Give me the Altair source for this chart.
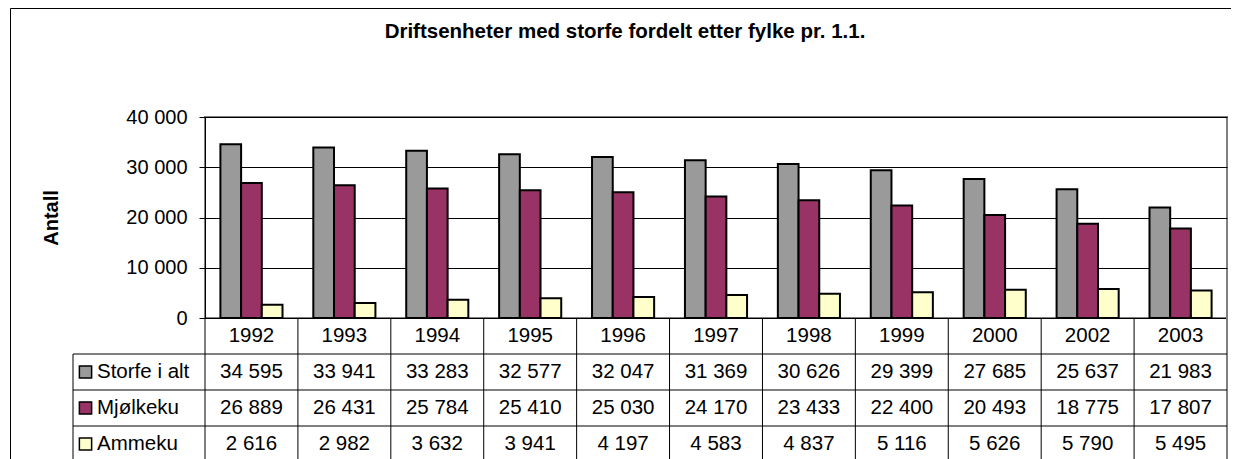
import altair as alt
import pandas as pd

# ---------------- data ----------------
years = ["1992", "1993", "1994", "1995", "1996", "1997", "1998", "1999", "2000", "2002", "2003"]
series = ["Storfe i alt", "Mjølkeku", "Ammeku"]
storfe = [34595, 33941, 33283, 32577, 32047, 31369, 30626, 29399, 27685, 25637, 21983]
mjolkeku = [26889, 26431, 25784, 25410, 25030, 24170, 23433, 22400, 20493, 18775, 17807]
ammeku = [2616, 2982, 3632, 3941, 4197, 4583, 4837, 5116, 5626, 5790, 5495]
colors = ["#9a9a9a", "#993366", "#ffffcc"]
title_text = "Driftsenheter med storfe fordelt etter fylke pr. 1.1."
y_title = "Antall"
y_ticks = [0, 10000, 20000, 30000, 40000]

FONT = "Liberation Sans"
W, H, ROW = 1022, 201, 36

values = [storfe, mjolkeku, ammeku]


def fmt(v):
    return f"{v:,}".replace(",", " ")


bar_rows = []
for s, vals in zip(series, values):
    for yr, v in zip(years, vals):
        bar_rows.append({"year": yr, "series": s, "value": v})
bars_df = pd.DataFrame(bar_rows)

cell_rows = [{"year": yr, "r": 0.5, "text": yr} for yr in years]
for i, (s, vals) in enumerate(zip(series, values)):
    for yr, v in zip(years, vals):
        cell_rows.append({"year": yr, "r": i + 1.5, "text": fmt(v)})
cells_df = pd.DataFrame(cell_rows)

labels_df = pd.DataFrame({"series": series, "r": [1.5, 2.5, 3.5]})
vsep_df = pd.DataFrame({"year": years, "y0": 0, "y1": 4})
redge_df = pd.DataFrame({"year": [years[-1]], "y0": [0], "y1": [4]})
hsep_df = pd.DataFrame({"r": [1, 2, 3]})
ledge_df = pd.DataFrame({"y0": [1], "y1": [4]})
title_df = pd.DataFrame({"t": [title_text]})
one_df = pd.DataFrame({"a": [0]})

# ---------------- scales ----------------
x_scale = alt.Scale(domain=years, paddingInner=0, paddingOuter=0)
x_axis = alt.Axis(labels=False, ticks=False, title=None, grid=False,
                  domainColor="black", domainWidth=1)
table_scale = alt.Scale(domain=[0, 4], range=[H, H + 4 * ROW])
color_scale = alt.Scale(domain=series, range=colors)

y_axis = alt.Axis(
    values=y_ticks, grid=True, gridColor="black", gridWidth=1,
    domainColor="black", domainWidth=1, tickColor="black", tickSize=6,
    labelFont=FONT, labelFontSize=20, labelColor="black", labelPadding=12,
    labelFlush=False, labelOverlap=False,
    labelExpr="replace(format(datum.value, ','), ',', ' ')",
    title=y_title, titleFont=FONT, titleFontSize=20, titleFontWeight="bold",
    titleColor="black", titleAngle=270, titleX=-148, titleY=H / 2,
    titleAlign="center", titleBaseline="alphabetic",
)

bars = alt.Chart(bars_df).mark_bar(stroke="black", strokeWidth=2).encode(
    x=alt.X("year:N", scale=x_scale, axis=x_axis),
    xOffset=alt.XOffset("series:N", sort=series,
                        scale=alt.Scale(domain=series, paddingInner=0, paddingOuter=0.744)),
    y=alt.Y("value:Q", scale=alt.Scale(domain=[0, 40000]), axis=y_axis),
    color=alt.Color("series:N", scale=color_scale, legend=None),
)

cells = alt.Chart(cells_df).mark_text(font=FONT, fontSize=20.5, color="black",
                                      baseline="middle", align="center").encode(
    x=alt.X("year:N", scale=x_scale, axis=x_axis),
    y=alt.Y("r:Q", scale=table_scale, axis=None),
    text="text:N",
)

vsep = alt.Chart(vsep_df).mark_rule(color="black", strokeWidth=1).encode(
    x=alt.X("year:N", bandPosition=0, scale=x_scale, axis=x_axis),
    y=alt.Y("y0:Q", scale=table_scale, axis=None),
    y2="y1:Q",
)

redge = alt.Chart(redge_df).mark_rule(color="#808080", strokeWidth=2).encode(
    x=alt.X("year:N", bandPosition=1, scale=x_scale, axis=x_axis),
    y=alt.Y("y0:Q", scale=table_scale, axis=None),
    y2="y1:Q",
)

hsep = alt.Chart(hsep_df).mark_rule(color="black", strokeWidth=1).encode(
    x=alt.value(-132), x2=alt.value(W),
    y=alt.Y("r:Q", scale=table_scale, axis=None),
)

ledge = alt.Chart(ledge_df).mark_rule(color="black", strokeWidth=1).encode(
    x=alt.value(-132),
    y=alt.Y("y0:Q", scale=table_scale, axis=None),
    y2="y1:Q",
)

row_labels = alt.Chart(labels_df).mark_text(font=FONT, fontSize=20.5, color="black",
                                            align="left", baseline="middle").encode(
    x=alt.value(-108),
    y=alt.Y("r:Q", scale=table_scale, axis=None),
    text="series:N",
)

swatches = alt.Chart(labels_df).mark_square(size=150, filled=True, opacity=1,
                                            stroke="black", strokeWidth=1.5).encode(
    x=alt.value(-119.5),
    y=alt.Y("r:Q", scale=table_scale, axis=None),
    color=alt.Color("series:N", scale=color_scale, legend=None),
)

title = alt.Chart(title_df).mark_text(font=FONT, fontSize=20.5, fontWeight="bold", color="black",
                                      align="center", baseline="alphabetic").encode(
    x=alt.value(420), y=alt.value(-79), text="t:N",
)

border_left = alt.Chart(one_df).mark_rule(color="black", strokeWidth=1).encode(
    x=alt.value(-194.5), y=alt.value(-108.5), y2=alt.value(H + 150),
)
border_top = alt.Chart(one_df).mark_rule(color="black", strokeWidth=1).encode(
    x=alt.value(-194.5), x2=alt.value(W + 4), y=alt.value(-108.5),
)

chart = alt.layer(
    border_left, border_top, title,
    bars, vsep, redge, hsep, ledge, cells, row_labels, swatches,
).resolve_scale(
    y="independent"
).properties(
    width=W, height=H,
    autosize=alt.AutoSizeParams(type="none"),
    padding={"left": 197, "top": 109, "right": 4, "bottom": 142},
    background="white",
).configure_view(
    stroke="#808080", strokeWidth=2
)

chart.save("out.html", embed_options={"renderer": "svg", "actions": False})
